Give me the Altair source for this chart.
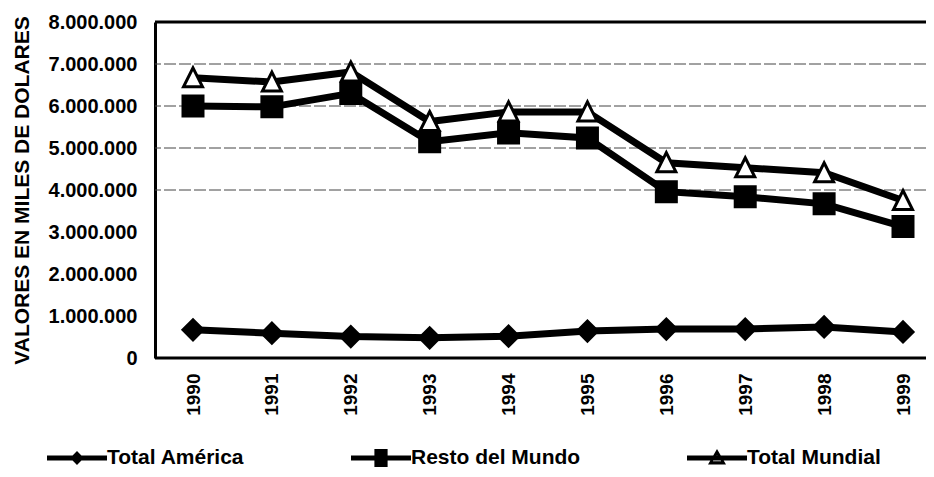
import altair as alt
import pandas as pd

YEARS = ["1990", "1991", "1992", "1993", "1994", "1995", "1996", "1997", "1998", "1999"]
TOTAL_AMERICA = [670000, 590000, 510000, 480000, 520000, 640000, 690000, 690000, 740000, 620000]
RESTO_MUNDO = [6000000, 5980000, 6300000, 5150000, 5360000, 5240000, 3960000, 3840000, 3670000, 3130000]
TOTAL_MUNDIAL = [6670000, 6570000, 6810000, 5630000, 5860000, 5860000, 4650000, 4530000, 4410000, 3750000]
SERIES = ["Total América", "Resto del Mundo", "Total Mundial"]
Y_TICKS = [0, 1000000, 2000000, 3000000, 4000000, 5000000, 6000000, 7000000, 8000000]
GRID_VALUES = [4000000, 5000000, 6000000, 7000000]
BORDER_VALUES = [0, 8000000]
Y_TOP = 8000000
Y_TITLE = "VALORES EN MILES DE DOLARES"

rows = []
for name, vals in zip(SERIES, [TOTAL_AMERICA, RESTO_MUNDO, TOTAL_MUNDIAL]):
    for yr, v in zip(YEARS, vals):
        rows.append({"year": yr, "serie": name, "value": v})
df = pd.DataFrame(rows)

FONT = "Liberation Sans"
W, H = 771, 336

TRI = "M0,-1L0.95,0.9L-0.95,0.9Z"
# legend symbols: a line with a marker in its middle, drawn as filled outlines
LEG_LINE = "M-1,-0.08H1V0.08H-1Z"
LEG_DIAMOND = LEG_LINE + "M0,-0.23L0.23,0L0,0.23L-0.23,0Z"
LEG_SQUARE = LEG_LINE + "M-0.22,-0.3H0.22V0.3H-0.22Z"
LEG_TRI = LEG_LINE + "M0,-0.3L0.3,0.22L-0.3,0.22ZM0,-0.1L-0.14,0.11L0.14,0.11Z"

x_scale = alt.Scale(type="point", range=[38, 748], padding=0)
y_scale = alt.Scale(domain=[0, Y_TOP], nice=False, zero=True)

x_axis = alt.Axis(
    title=None,
    labelAngle=270,
    labelFont=FONT,
    labelFontSize=19,
    labelFontWeight="bold",
    labelColor="black",
    labelPadding=15,
    ticks=False,
    domain=False,
    grid=False,
)
y_axis = alt.Axis(
    title=Y_TITLE,
    values=Y_TICKS,
    format=",.0f",
    labelFont=FONT,
    labelFontSize=20,
    labelFontWeight="bold",
    labelColor="black",
    labelPadding=18,
    ticks=False,
    grid=False,
    domainColor="black",
    domainWidth=3,
    titleFont=FONT,
    titleFontSize=21,
    titleFontWeight="bold",
    titleColor="black",
    titleAngle=270,
    titleX=-127,
    titleY=H / 2,
    titleAlign="center",
    titleBaseline="alphabetic",
)

x_enc = alt.X("year:O", scale=x_scale, sort=YEARS, axis=x_axis)
y_enc = alt.Y("value:Q", scale=y_scale, axis=y_axis)

base = alt.Chart(df)

grid = alt.Chart(pd.DataFrame({"value": GRID_VALUES})).mark_rule(
    color="#444444", strokeWidth=1, strokeDash=[12, 3]
).encode(y=y_enc)

borders = alt.Chart(pd.DataFrame({"value": BORDER_VALUES})).mark_rule(
    color="black", strokeWidth=3
).encode(y=y_enc)

lines = base.mark_line(color="black", strokeWidth=7).encode(
    x=x_enc, y=y_enc, detail="serie:N"
)

points = base.mark_point(filled=True, stroke="black", strokeWidth=3, size=400, opacity=1).encode(
    x=x_enc,
    y=y_enc,
    shape=alt.Shape("serie:N", scale=alt.Scale(domain=SERIES, range=["diamond", "square", TRI]), legend=None),
    fill=alt.Fill("serie:N", scale=alt.Scale(domain=SERIES, range=["black", "black", "white"]), legend=None),
)

legend_layer = base.mark_point(filled=True, color="black", opacity=0).encode(
    x=x_enc,
    y=y_enc,
    shape=alt.Shape(
        "serie:N",
        scale=alt.Scale(domain=SERIES, range=[LEG_DIAMOND, LEG_SQUARE, LEG_TRI]),
        sort=SERIES,
        legend=alt.Legend(
            title=None,
            orient="none",
            legendX=-108,
            legendY=406,
            direction="horizontal",
            columnPadding=106,
            symbolSize=3600,
            symbolFillColor="black",
            symbolStrokeWidth=0,
            symbolOpacity=1,
            labelFont=FONT,
            labelFontSize=21,
            labelFontWeight="bold",
            labelColor="black",
            labelOffset=0,
            labelLimit=400,
            padding=0,
        ),
    ),
)

chart = (
    alt.layer(grid, lines, borders, points, legend_layer)
    .resolve_scale(shape="independent", fill="independent")
    .properties(
        width=W,
        height=H,
        autosize=alt.AutoSizeParams(type="none"),
        padding={"left": 147, "top": 14, "right": 0, "bottom": 111},
        background="white",
    )
    .configure(
        font=FONT,
        locale={"number": {"decimal": ",", "thousands": ".", "grouping": [3], "currency": ["", ""]}},
    )
    .configure_view(stroke=None)
)

chart.save("out.html", embed_options={"renderer": "svg", "actions": False})
